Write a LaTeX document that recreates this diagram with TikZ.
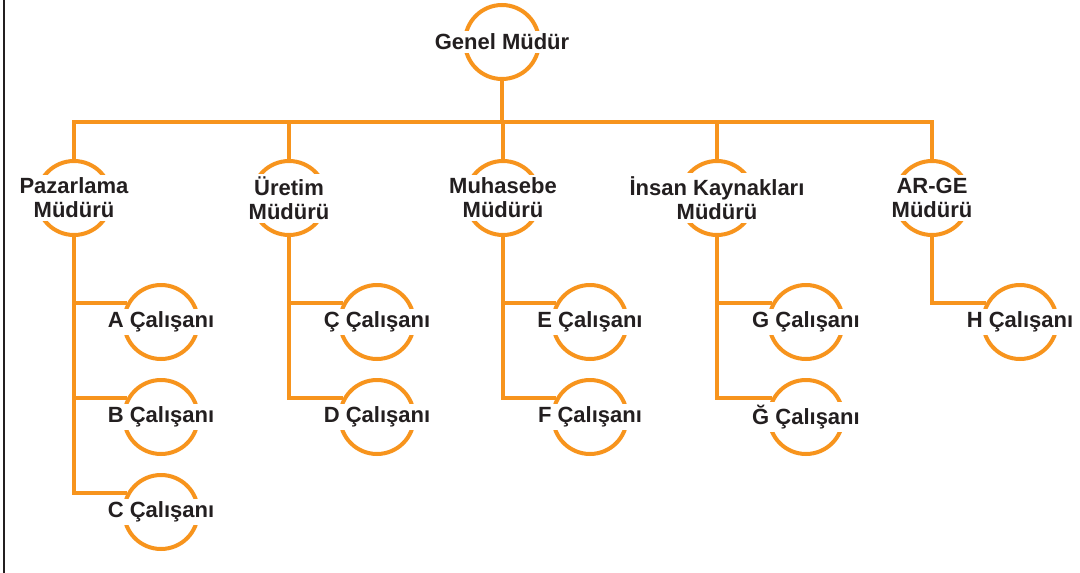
\documentclass[tikz,border=0pt]{standalone}
\usepackage{fontspec}
\setmainfont{Liberation Sans}
\definecolor{org}{RGB}{247,148,29}
\definecolor{ink}{RGB}{35,31,32}
\begin{document}
\begin{tikzpicture}[x=1pt,y=-1pt,
  ring/.style={circle,draw=org,line width=4pt,minimum size=74pt,inner sep=0pt},
  lbl/.style={fill=white,text=ink,font=\bfseries\fontsize{22}{24}\selectfont,
    align=center,inner xsep=1pt,inner ysep=3pt},
  link/.style={draw=org,line width=4pt}]
\useasboundingbox (0,0) rectangle (1080,573);
% left frame line
\draw[ink,line width=2pt] (4,0) -- (4,573);

% rings
\node[ring] (gm) at (502,42) {};
\node[ring] (m1) at (74,198) {};
\node[ring] (m2) at (289,198) {};
\node[ring] (m3) at (503,198) {};
\node[ring] (m4) at (717,198) {};
\node[ring] (m5) at (932,198) {};
\node[ring] (eA) at (161,322) {};
\node[ring] (eB) at (161,417) {};
\node[ring] (eC) at (161,512) {};
\node[ring] (eCc) at (377,322) {};
\node[ring] (eD) at (377,417) {};
\node[ring] (eE) at (590,322) {};
\node[ring] (eF) at (590,417) {};
\node[ring] (eG) at (806,322) {};
\node[ring] (eGg) at (806,417) {};
\node[ring] (eH) at (1020,322) {};

% connectors
\coordinate (bus) at (502,122);
\draw[link] (gm.south) -- (bus);
\foreach \m in {m1,m2,m3,m4,m5}
  \draw[link] (\m.north) |- (bus);
\foreach \m/\e in {m1/eA,m1/eB,m1/eC,m2/eCc,m2/eD,m3/eE,m3/eF,m4/eG,m4/eGg,m5/eH}
  \draw[link] (\m.south) |- (\e.150);

% labels
\node[lbl] (tgm) at (gm) {Genel Müdür};
\node[lbl] (tm1) at (m1) {Pazarlama\\Müdürü};
\node[lbl] (tm2) at (m2) {Üretim\\Müdürü};
\node[lbl] (tm3) at (m3) {Muhasebe\\Müdürü};
\node[lbl] (tm4) at (m4) {İnsan Kaynakları\\Müdürü};
\node[lbl] (tm5) at (m5) {AR-GE\\Müdürü};
\node[lbl] (tA) at (eA) {A Çalışanı};
\node[lbl] (tB) at (eB) {B Çalışanı};
\node[lbl] (tC) at (eC) {C Çalışanı};
\node[lbl] (tCc) at (eCc) {Ç Çalışanı};
\node[lbl] (tD) at (eD) {D Çalışanı};
\node[lbl] (tE) at (eE) {E Çalışanı};
\node[lbl] (tF) at (eF) {F Çalışanı};
\node[lbl] (tG) at (eG) {G Çalışanı};
\node[lbl] (tGg) at (eGg) {Ğ Çalışanı};
\node[lbl] (tH) at (eH) {H Çalışanı};
\end{tikzpicture}
\end{document}
